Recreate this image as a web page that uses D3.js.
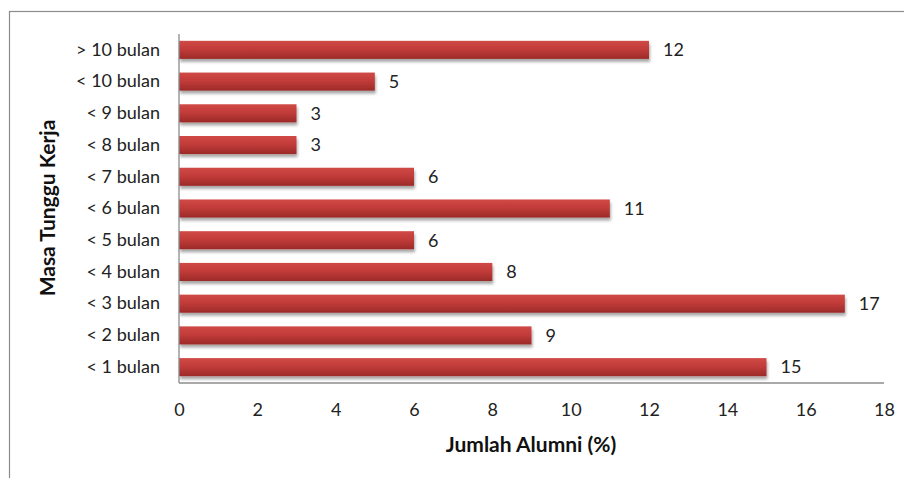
<!DOCTYPE html>
<html><head><meta charset="utf-8">
<script src="https://cdn.jsdelivr.net/npm/d3@7"></script>
<style>body{margin:0;background:#fff}svg{display:block}</style>
</head><body>
<svg id="c" width="904" height="478"></svg>
<script>
const categories = ["< 1 bulan","< 2 bulan","< 3 bulan","< 4 bulan","< 5 bulan","< 6 bulan","< 7 bulan","< 8 bulan","< 9 bulan","< 10 bulan","> 10 bulan"];
const values = [15, 9, 17, 8, 6, 11, 6, 3, 3, 5, 12];
const xTicks = [0,2,4,6,8,10,12,14,16,18];
const xTitle = "Jumlah Alumni (%)";
const yTitle = "Masa Tunggu Kerja";

const svg = d3.select("#c");
const font = "Lato, 'Open Sans', sans-serif";
const m = {l:179, r:884, t:34, b:383};

svg.append("rect").attr("x",9.5).attr("y",11.5).attr("width",910).attr("height",480)
  .attr("fill","none").attr("stroke","#8c8c8c").attr("stroke-width",1.2);

const defs = svg.append("defs");
const g1 = defs.append("linearGradient").attr("id","bar").attr("x1",0).attr("x2",0).attr("y1",0).attr("y2",1);
g1.append("stop").attr("offset","0%").attr("stop-color","#d04a46");
g1.append("stop").attr("offset","45%").attr("stop-color","#c23c3a");
g1.append("stop").attr("offset","100%").attr("stop-color","#9c2a28");
const f = defs.append("filter").attr("id","sh").attr("x","-5%").attr("y","-30%").attr("width","115%").attr("height","200%");
f.append("feGaussianBlur").attr("in","SourceAlpha").attr("stdDeviation",1.6);
f.append("feOffset").attr("dx",1).attr("dy",2.5).attr("result","b");
f.append("feComponentTransfer").append("feFuncA").attr("type","linear").attr("slope",0.35);
const mg = f.append("feMerge"); mg.append("feMergeNode"); mg.append("feMergeNode").attr("in","SourceGraphic");

const x = d3.scaleLinear().domain([0,18]).range([m.l,m.r]);
const y = d3.scaleBand().domain(categories.slice().reverse()).range([m.t,m.b]).paddingInner(0.43).paddingOuter(0.215);

svg.append("g").selectAll("rect").data(categories).join("rect")
  .attr("x",x(0)).attr("y",d=>y(d)).attr("height",y.bandwidth())
  .attr("width",(d,i)=>x(values[i])-x(0))
  .attr("fill","url(#bar)").attr("filter","url(#sh)");

svg.append("line").attr("x1",m.l).attr("x2",m.l).attr("y1",m.t).attr("y2",m.b).attr("stroke","#8c8c8c").attr("stroke-width",1.3);
svg.append("line").attr("x1",m.l).attr("x2",m.r).attr("y1",m.b).attr("y2",m.b).attr("stroke","#8c8c8c").attr("stroke-width",1.3);

const xa = svg.append("g").attr("transform",`translate(0,${m.b+27})`)
  .call(d3.axisBottom(x).tickValues(xTicks).tickSize(0).tickPadding(0).tickFormat(d3.format("d")));
xa.select(".domain").remove();
xa.selectAll("text").attr("font-family",font).attr("font-size",18).attr("fill","#222").attr("dy","0.35em");

const ya = svg.append("g").attr("transform",`translate(${m.l-19},0)`)
  .call(d3.axisLeft(y).tickSize(0).tickPadding(0));
ya.select(".domain").remove();
ya.selectAll("text").attr("font-family",font).attr("font-size",18).attr("fill","#222");

svg.append("g").selectAll("text").data(categories).join("text")
  .attr("x",(d,i)=>x(values[i])+14).attr("y",d=>y(d)+y.bandwidth()/2).attr("dy","0.35em")
  .attr("font-family",font).attr("font-size",18).attr("fill","#222")
  .text((d,i)=>values[i]);

svg.append("text").attr("x",531).attr("y",445).attr("dy","0.35em").attr("text-anchor","middle")
  .attr("font-family",font).attr("font-size",21).attr("font-weight","bold").attr("fill","#111").text(xTitle);
svg.append("text").attr("transform","translate(48,208) rotate(-90)").attr("dy","0.35em").attr("text-anchor","middle")
  .attr("font-family",font).attr("font-size",21).attr("font-weight","bold").attr("fill","#111").text(yTitle);
</script>
</body></html>
